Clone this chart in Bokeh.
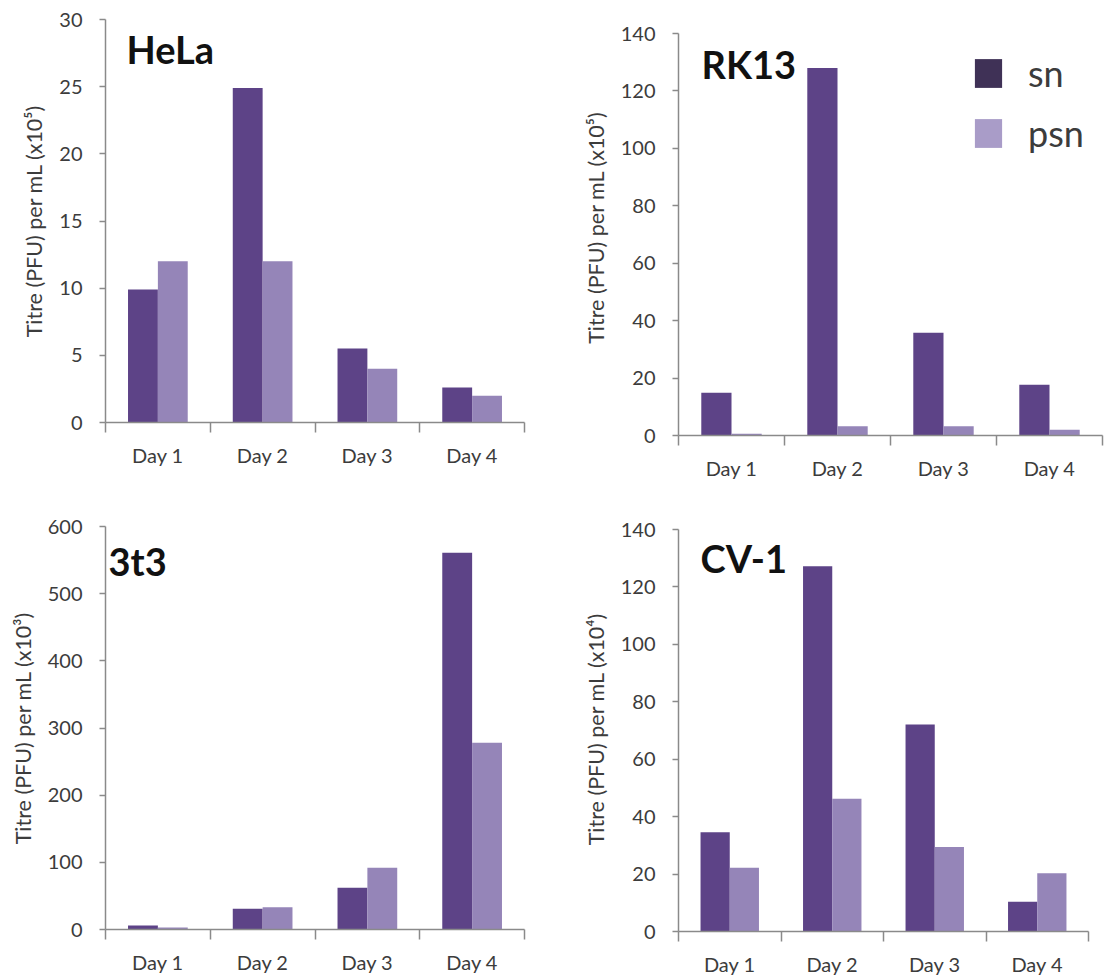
import numpy as np
from bokeh.plotting import figure
from bokeh.models import (FixedTicker, Label, Legend, LegendItem, ColumnDataSource,
                          CustomJSTickFormatter, Range1d)
from bokeh.layouts import row, column
from bokeh.embed import file_html
from bokeh.resources import INLINE

# ---- data ----
days = ["Day 1", "Day 2", "Day 3", "Day 4"]
series = ["sn", "psn"]

hela_sn = [9.9, 24.9, 5.5, 2.6]
hela_psn = [12.0, 12.0, 4.0, 2.0]

rk13_sn = [14.9, 128.0, 35.8, 17.7]
rk13_psn = [0.6, 3.2, 3.2, 2.0]

t3_sn = [6, 31, 62, 561]
t3_psn = [3, 33, 92, 278]

cv1_sn = [34.6, 127.2, 72.1, 10.4]
cv1_psn = [22.2, 46.2, 29.4, 20.3]

# ---- styles ----
SN_COLOR = "#5d4387"
PSN_COLOR = "#9585b8"
LEG_SN = "#3f3156"
LEG_PSN = "#a99cc8"
AXIS_COLOR = "#8a8a8a"
TEXT_COLOR = "#3c3c3c"
FONT = "Lato"
BW = 0.285


def make_panel(title, sn, psn, ymax, ystep, ylabel,
               fw, fh, bl, br, bt, bb,
               y_hi, x_hi, title_xy, legend_loc=None):
    ndays = len(days)
    p = figure(frame_width=fw, frame_height=fh,
               x_range=Range1d(0, x_hi), y_range=Range1d(0, y_hi),
               toolbar_location=None, output_backend="svg",
               min_border_left=bl, min_border_right=br,
               min_border_top=bt, min_border_bottom=bb)
    p.outline_line_color = None
    p.xgrid.visible = False
    p.ygrid.visible = False
    p.background_fill_color = "white"
    p.border_fill_color = "white"

    centers = np.arange(ndays) + 0.5
    src = ColumnDataSource(dict(x_sn=centers - BW / 2, x_psn=centers + BW / 2,
                                sn=sn, psn=psn))
    p.vbar(x="x_sn", top="sn", width=BW, source=src,
           fill_color=SN_COLOR, line_color=None)
    p.vbar(x="x_psn", top="psn", width=BW, source=src,
           fill_color=PSN_COLOR, line_color=None)

    # x axis: ticks at category boundaries, labels at centres
    xa = p.xaxis[0]
    xa.bounds = (0, ndays)
    xa.ticker = FixedTicker(ticks=list(centers),
                            minor_ticks=list(range(ndays + 1)))
    xa.formatter = CustomJSTickFormatter(args=dict(labels=days),
                                         code="return labels[Math.floor(tick)]")
    xa.major_tick_in = 0
    xa.major_tick_out = 0
    xa.major_tick_line_color = None
    xa.minor_tick_in = 0
    xa.minor_tick_out = 10
    xa.minor_tick_line_color = AXIS_COLOR
    xa.minor_tick_line_width = 1.5
    xa.axis_line_color = AXIS_COLOR
    xa.axis_line_width = 1.5
    xa.major_label_text_font = FONT
    xa.major_label_text_font_size = "20px"
    xa.major_label_text_color = TEXT_COLOR
    xa.major_label_standoff = 10

    ya = p.yaxis[0]
    ya.bounds = (0, ymax)
    ya.ticker = FixedTicker(ticks=list(range(0, ymax + 1, ystep)), minor_ticks=[])
    ya.major_tick_in = 0
    ya.major_tick_out = 6
    ya.major_tick_line_color = AXIS_COLOR
    ya.major_tick_line_width = 1.5
    ya.axis_line_color = AXIS_COLOR
    ya.axis_line_width = 1.5
    ya.major_label_text_font = FONT
    ya.major_label_text_font_size = "20px"
    ya.major_label_text_color = TEXT_COLOR
    ya.major_label_standoff = 17
    ya.axis_label = ylabel
    ya.axis_label_text_font = FONT
    ya.axis_label_text_font_size = "21.5px"
    ya.axis_label_text_font_style = "normal"
    ya.axis_label_text_color = TEXT_COLOR
    ya.axis_label_standoff = 9

    p.add_layout(Label(x=title_xy[0], y=title_xy[1], x_units="screen", y_units="screen",
                       text=title, text_font=FONT, text_font_style="bold",
                       text_font_size="38px", text_color="#111111",
                       text_baseline="alphabetic"))

    if legend_loc is not None:
        r_a = p.vbar(x=[-10], top=[1], width=0.1, fill_color=LEG_SN, line_color=None)
        r_b = p.vbar(x=[-10], top=[1], width=0.1, fill_color=LEG_PSN, line_color=None)
        leg = Legend(items=[LegendItem(label=series[0], renderers=[r_a]),
                            LegendItem(label=series[1], renderers=[r_b])],
                     location=legend_loc, orientation="vertical",
                     glyph_width=34, glyph_height=36, label_height=36,
                     label_standoff=23, spacing=16, padding=0, margin=0,
                     border_line_color=None, background_fill_alpha=0,
                     label_text_font=FONT, label_text_font_size="36px",
                     label_text_line_height=1.0,
                     label_text_color=TEXT_COLOR)
        p.add_layout(leg)
    return p


# row 1 frames start at y=19 ; row 2 frames start at y=526
p1 = make_panel("HeLa", hela_sn, hela_psn, 30, 5, "Titre (PFU) per mL (x10\u2075)",
                419, 403, 105, 36, 19, 63,
                30, 4, (21, 374))
p2 = make_panel("RK13", rk13_sn, rk13_psn, 140, 20, "Titre (PFU) per mL (x10\u2075)",
                424, 416, 118, 4, 19, 50,
                140 + 140 * 14 / 402, 4, (23, 372), legend_loc=(293, 280))
p3 = make_panel("3t3", t3_sn, t3_psn, 600, 100, "Titre (PFU) per mL (x10\u00b3)",
                419, 403, 105, 36, 41, 46,
                600, 4, (3, 369))
p4 = make_panel("CV-1", cv1_sn, cv1_psn, 140, 20, "Titre (PFU) per mL (x10\u2074)",
                424, 405, 118, 4, 41, 44,
                140 + 140 * 3 / 402, 4 * 424 / 410, (22, 374))

layout = column(row(p1, p2, spacing=0), row(p3, p4, spacing=0), spacing=0)

open("out.html", "w").write(file_html(layout, INLINE))
